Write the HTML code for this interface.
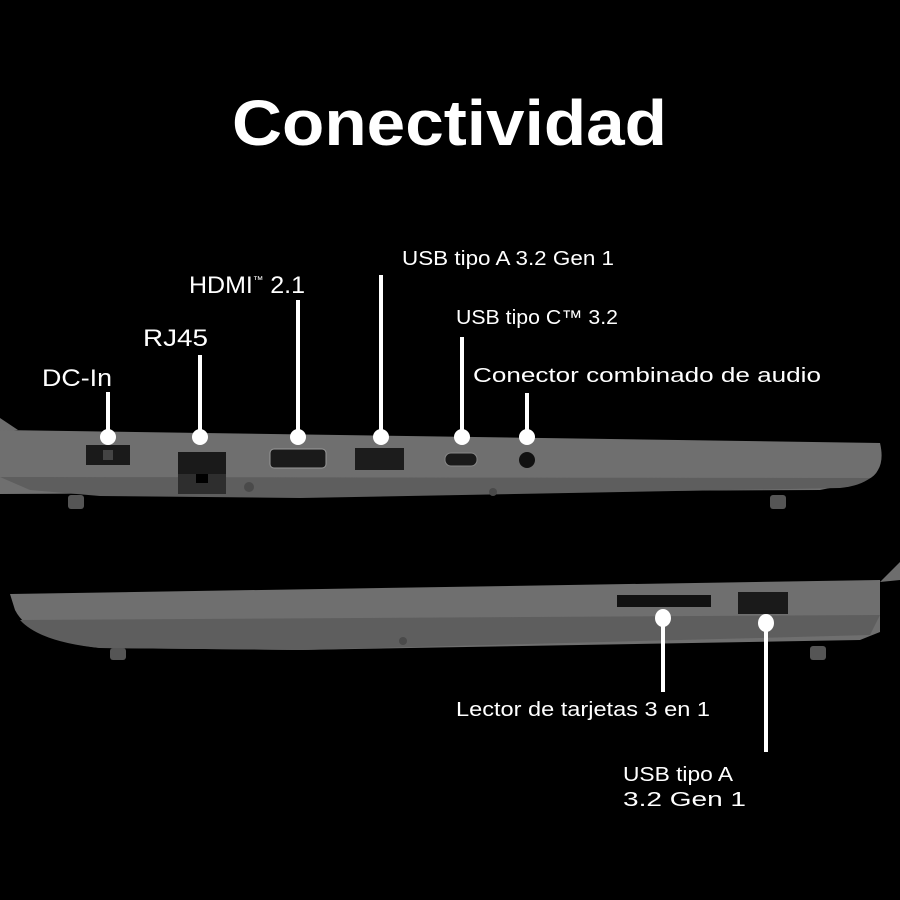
<!DOCTYPE html>
<html><head><meta charset="utf-8"><style>
html,body{margin:0;padding:0;background:#000;}
svg{display:block}
text{font-family:"Liberation Sans",sans-serif;fill:#fff;}
</style></head><body>
<svg width="900" height="900" viewBox="0 0 900 900" xmlns="http://www.w3.org/2000/svg">
<rect width="900" height="900" fill="#000"/>
<text x="232" y="145" font-size="64" font-weight="bold" textLength="435" lengthAdjust="spacingAndGlyphs">Conectividad</text>

<path d="M0 418 L18 430 L0 432 Z" fill="#6d6d6d"/>
<path d="M0 430 L880 443 Q884 460 878 470 Q872 482 850 484 L820 490 L0 494 Z" fill="#6f6f6f"/>
<path d="M0 477 L870 478 Q860 486 840 488 L300 498 L100 496 L30 490 Z" fill="#5e5e5e"/>
<rect x="68" y="495" width="16" height="14" rx="3" fill="#555"/>
<rect x="770" y="495" width="16" height="14" rx="3" fill="#555"/>
<circle cx="249" cy="487" r="5" fill="#4a4a4a"/>
<circle cx="493" cy="492" r="4" fill="#4a4a4a"/>
<rect x="86" y="445" width="44" height="20" fill="#1a1a1a"/>
<rect x="103" y="450" width="10" height="10" fill="#444"/>
<rect x="178" y="452" width="48" height="42" fill="#2e2e2e"/>
<rect x="178" y="452" width="48" height="22" fill="#1a1a1a"/>
<rect x="196" y="474" width="12" height="9" fill="#000"/>
<rect x="270" y="449" width="56" height="19" rx="4" fill="#1a1a1a" stroke="#999"/>
<rect x="355" y="448" width="49" height="22" fill="#1c1c1c"/>
<rect x="445" y="453" width="32" height="13" rx="6" fill="#1a1a1a" stroke="#888"/>
<circle cx="527" cy="460" r="8" fill="#111"/>
<g stroke="#fff" stroke-width="4">
<line x1="108" y1="392" x2="108" y2="437"/>
<line x1="200" y1="355" x2="200" y2="437"/>
<line x1="298" y1="300" x2="298" y2="437"/>
<line x1="381" y1="275" x2="381" y2="437"/>
<line x1="462" y1="337" x2="462" y2="437"/>
<line x1="527" y1="393" x2="527" y2="437"/>
</g>
<g fill="#fff">
<circle cx="108" cy="437" r="8"/><circle cx="200" cy="437" r="8"/>
<circle cx="298" cy="437" r="8"/><circle cx="381" cy="437" r="8"/>
<circle cx="462" cy="437" r="8"/><circle cx="527" cy="437" r="8"/>
</g>
<text x="42" y="386" font-size="24" textLength="70" lengthAdjust="spacingAndGlyphs">DC-In</text>
<text x="143" y="346" font-size="24" textLength="65" lengthAdjust="spacingAndGlyphs">RJ45</text>
<text x="189" y="293" font-size="24" textLength="116" lengthAdjust="spacingAndGlyphs">HDMI<tspan font-size="10" dy="-10">™</tspan><tspan dy="10"> 2.1</tspan></text>
<text x="402" y="265" font-size="20" textLength="212" lengthAdjust="spacingAndGlyphs">USB tipo A 3.2 Gen 1</text>
<text x="456" y="324" font-size="20" textLength="162" lengthAdjust="spacingAndGlyphs">USB tipo C™ 3.2</text>
<text x="473" y="382" font-size="20" textLength="348" lengthAdjust="spacingAndGlyphs">Conector combinado de audio</text>

<path d="M900 562 L880 582 L900 580 Z" fill="#6d6d6d"/>
<path d="M10 594 L880 580 L880 632 L860 640 L300 650 L100 648 Q30 640 15 610 Z" fill="#6f6f6f"/>
<path d="M20 620 L880 615 L870 635 L300 650 L100 648 Q40 642 20 620 Z" fill="#5e5e5e"/>
<rect x="110" y="648" width="16" height="12" rx="3" fill="#555"/>
<rect x="810" y="646" width="16" height="14" rx="3" fill="#555"/>
<circle cx="403" cy="641" r="4" fill="#4a4a4a"/>
<rect x="617" y="595" width="94" height="12" fill="#111"/>
<rect x="738" y="592" width="50" height="22" fill="#1a1a1a"/>
<g stroke="#fff" stroke-width="4">
<line x1="663" y1="620" x2="663" y2="692"/>
<line x1="766" y1="623" x2="766" y2="752"/>
</g>
<g fill="#fff">
<ellipse cx="663" cy="618" rx="8" ry="9"/><ellipse cx="766" cy="623" rx="8" ry="9"/>
</g>
<text x="456" y="716" font-size="20" textLength="254" lengthAdjust="spacingAndGlyphs">Lector de tarjetas 3 en 1</text>
<text x="623" y="781" font-size="20" textLength="110" lengthAdjust="spacingAndGlyphs">USB tipo A</text>
<text x="623" y="806" font-size="20" textLength="123" lengthAdjust="spacingAndGlyphs">3.2 Gen 1</text>
</svg>
</body></html>
